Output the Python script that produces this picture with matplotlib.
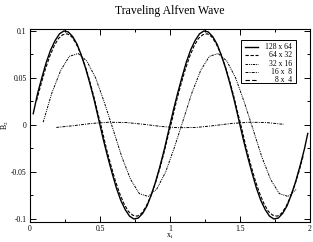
import matplotlib
matplotlib.use("Agg")
import matplotlib.pyplot as plt
from matplotlib.patches import Rectangle

plt.rcParams['font.family'] = ['Liberation Serif', 'DejaVu Serif']
plt.rcParams['mathtext.fontset'] = 'stix'
plt.rcParams['axes.unicode_minus'] = False

# 128 x 64 (read every other cell)
x_128 = [0.023, 0.055, 0.086, 0.117, 0.148, 0.180, 0.211, 0.242, 0.273, 0.305, 0.336, 0.367,
         0.398, 0.430, 0.461, 0.492, 0.523, 0.555, 0.586, 0.617, 0.648, 0.680, 0.711, 0.742,
         0.773, 0.805, 0.836, 0.867, 0.898, 0.930, 0.961, 0.992, 1.023, 1.055, 1.086, 1.117,
         1.148, 1.180, 1.211, 1.242, 1.273, 1.305, 1.336, 1.367, 1.398, 1.430, 1.461, 1.492,
         1.523, 1.555, 1.586, 1.617, 1.648, 1.680, 1.711, 1.742, 1.773, 1.805, 1.836, 1.867,
         1.898, 1.930, 1.961, 1.984]
b_128 = [0.012, 0.034, 0.051, 0.067, 0.080, 0.090, 0.097, 0.100, 0.099, 0.094, 0.086, 0.074,
         0.060, 0.043, 0.025, 0.005, -0.015, -0.034, -0.051, -0.067, -0.080, -0.090, -0.097, -0.100,
         -0.099, -0.094, -0.086, -0.074, -0.060, -0.043, -0.025, -0.005, 0.015, 0.034, 0.051, 0.067,
         0.080, 0.090, 0.097, 0.100, 0.099, 0.094, 0.086, 0.074, 0.060, 0.043, 0.025, 0.005,
         -0.015, -0.034, -0.051, -0.067, -0.080, -0.090, -0.097, -0.100, -0.099, -0.094, -0.086, -0.074,
         -0.060, -0.043, -0.025, -0.009]

# 64 x 32
x_64 = [0.047, 0.078, 0.109, 0.141, 0.172, 0.203, 0.234, 0.266, 0.297, 0.328, 0.359, 0.391,
        0.422, 0.453, 0.484, 0.516, 0.547, 0.578, 0.609, 0.641, 0.672, 0.703, 0.734, 0.766,
        0.797, 0.828, 0.859, 0.891, 0.922, 0.953, 0.984, 1.016, 1.047, 1.078, 1.109, 1.141,
        1.172, 1.203, 1.234, 1.266, 1.297, 1.328, 1.359, 1.391, 1.422, 1.453, 1.484, 1.516,
        1.547, 1.578, 1.609, 1.641, 1.672, 1.703, 1.734, 1.766, 1.797, 1.828, 1.859, 1.891,
        1.922, 1.953]
b_64 = [0.026, 0.043, 0.059, 0.073, 0.084, 0.092, 0.096, 0.097, 0.094, 0.087, 0.077, 0.064,
        0.049, 0.032, 0.013, -0.006, -0.026, -0.043, -0.059, -0.073, -0.084, -0.092, -0.096, -0.097,
        -0.094, -0.087, -0.077, -0.064, -0.049, -0.032, -0.013, 0.006, 0.026, 0.043, 0.059, 0.073,
        0.084, 0.092, 0.096, 0.097, 0.094, 0.087, 0.077, 0.064, 0.049, 0.032, 0.013, -0.006,
        -0.026, -0.043, -0.059, -0.073, -0.084, -0.092, -0.096, -0.097, -0.094, -0.087, -0.077, -0.064,
        -0.049, -0.032]

# 32 x 16
x_32 = [0.094, 0.156, 0.219, 0.281, 0.344, 0.406, 0.469, 0.531, 0.594, 0.656, 0.719, 0.781,
        0.844, 0.906, 0.969, 1.031, 1.094, 1.156, 1.219, 1.281, 1.344, 1.406, 1.469, 1.531,
        1.594, 1.656, 1.719, 1.781, 1.844, 1.906]
b_32 = [0.003, 0.034, 0.058, 0.073, 0.076, 0.068, 0.050, 0.024, -0.005, -0.034, -0.058, -0.073,
        -0.076, -0.068, -0.050, -0.024, 0.005, 0.034, 0.058, 0.073, 0.076, 0.068, 0.050, 0.024,
        -0.005, -0.034, -0.058, -0.073, -0.076, -0.068]

# 16 x 8
x_16 = [0.188, 0.313, 0.438, 0.563, 0.688, 0.813, 0.938, 1.063, 1.188, 1.313, 1.438, 1.563,
        1.688, 1.813]
b_16 = [-0.0026, -0.0007, 0.0016, 0.0029, 0.0026, 0.0007, -0.0016, -0.0029, -0.0026, -0.0007,
        0.0016, 0.0029, 0.0026, 0.0007]

# 8 x 4 (not visible inside the plotted range)
x_8 = []
b_8 = []

labels = ['128 x 64', '64 x 32', '32 x 16', '16 x  8', '8 x  4']
styles = ['-', (0, (3, 1.5)), (0, (2.5, 1, 1, 1, 1, 1)), (0, (3, 1.2, 1, 1.2)), (0, (4, 2))]
widths = [1.0, 0.8, 0.7, 0.7, 0.8]

fig = plt.figure(figsize=(3.13, 2.42), dpi=100)
ax = fig.add_axes([30 / 313, 1 - 222 / 242, 280 / 313, 193 / 242])

series = [(x_128, b_128), (x_64, b_64), (x_32, b_32), (x_16, b_16), (x_8, b_8)]
for (xs, ys), ls, lw in zip(series, styles, widths):
    ax.plot(xs, ys, color='black', lw=lw, linestyle=ls)

ax.set_xlim(0, 2)
ax.set_ylim(-0.1032, 0.1021)
ax.set_xticks([0, 0.5, 1, 1.5, 2])
ax.set_xticklabels(['0', '0.5', '1', '1.5', '2'])
ax.set_xticks([0.25, 0.75, 1.25, 1.75], minor=True)
ax.set_yticks([-0.1, -0.05, 0, 0.05, 0.1])
ax.set_yticklabels(['-0.1', '-0.05', '0', '0.05', '0.1'])
ax.set_yticks([-0.075, -0.025, 0.025, 0.075], minor=True)
ax.tick_params(which='both', direction='in', top=True, right=True, labelsize=5.5,
               width=0.7, pad=2.5)
ax.tick_params(which='major', length=4.5)
ax.tick_params(which='minor', length=2.5)
for s in ax.spines.values():
    s.set_linewidth(0.8)

ax.set_title('Traveling Alfven Wave', fontsize=8.5, pad=11)
ax.set_xlabel('x$_1$', fontsize=5.5)
ax.set_ylabel('B$_2$', fontsize=5.5)
ax.xaxis.set_label_coords(0.5, -0.052)
ax.yaxis.set_label_coords(-0.068, 0.5)

# legend box drawn by hand so the labels can be right aligned
lx0, lx1 = (241 - 30) / 280, (296 - 30) / 280
ly0, ly1 = (222 - 83) / 193, (222 - 40) / 193
ax.add_patch(Rectangle((lx0, ly0), lx1 - lx0, ly1 - ly0, transform=ax.transAxes,
                       fill=True, facecolor='white', edgecolor='black', lw=0.7, zorder=5))
for i, (lab, ls, lw) in enumerate(zip(labels, styles, widths)):
    yy = (222 - (47 + 8.3 * i)) / 193
    ax.plot([(245 - 30) / 280, (258 - 30) / 280], [yy, yy], transform=ax.transAxes,
            color='black', lw=lw, linestyle=ls, zorder=6)
    ax.text((292 - 30) / 280, yy, lab, transform=ax.transAxes, ha='right', va='center',
            fontsize=5.5, zorder=6)

fig.savefig('out.png', dpi=100)
